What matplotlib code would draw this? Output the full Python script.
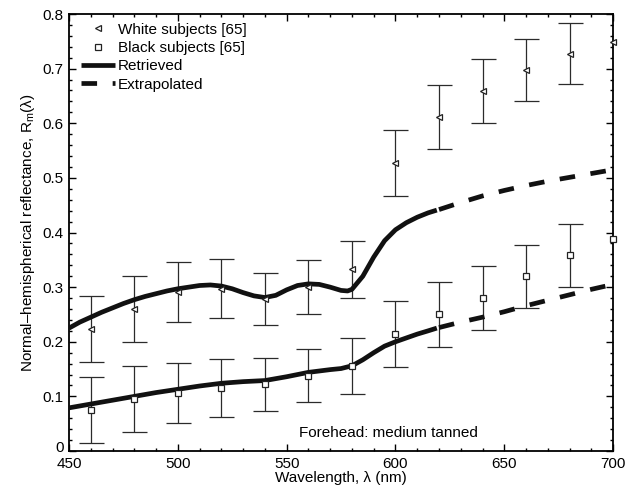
import matplotlib
matplotlib.use('Agg')
import matplotlib.pyplot as plt
from matplotlib.ticker import MultipleLocator

plt.rcParams['font.family'] = ['Liberation Sans', 'DejaVu Sans']
plt.rcParams['mathtext.fontset'] = 'custom'
plt.rcParams['mathtext.rm'] = 'Liberation Sans'
plt.rcParams['mathtext.it'] = 'Liberation Sans'

# measured points with error bars
WAVE_PTS = [460, 480, 500, 520, 540, 560, 580, 600, 620, 640, 660, 680]
WHITE = [0.223, 0.260, 0.291, 0.297, 0.278, 0.300, 0.333, 0.527, 0.611, 0.659, 0.698, 0.727]
WHITE_ERR = [0.060, 0.061, 0.055, 0.054, 0.048, 0.049, 0.052, 0.060, 0.059, 0.058, 0.057, 0.056]
BLACK = [0.075, 0.095, 0.106, 0.115, 0.122, 0.138, 0.155, 0.214, 0.250, 0.280, 0.320, 0.358]
BLACK_ERR = [0.060, 0.060, 0.055, 0.053, 0.048, 0.049, 0.051, 0.060, 0.059, 0.059, 0.058, 0.057]
# last point at 700 nm (drawn without error bars)
WAVE_LAST = [700]
WHITE_LAST = [0.749]
BLACK_LAST = [0.388]

# retrieved curves
WAVE_RET_W = [450, 455, 460, 465, 470, 475, 480, 485, 490, 495, 500, 505, 510, 515,
              520, 525, 530, 535, 540, 545, 550, 555, 560, 565, 570, 575, 578, 580,
              585, 590, 595, 600, 605, 610, 615, 619]
WHITE_RET = [0.225, 0.236, 0.245, 0.254, 0.262, 0.270, 0.277, 0.283, 0.288, 0.293,
             0.297, 0.300, 0.303, 0.304, 0.302, 0.297, 0.290, 0.284, 0.281, 0.285,
             0.295, 0.303, 0.306, 0.305, 0.300, 0.294, 0.293, 0.296, 0.320, 0.355,
             0.385, 0.405, 0.418, 0.428, 0.436, 0.441]
WAVE_RET_B = [450, 460, 470, 480, 490, 500, 510, 520, 530, 540, 550, 560, 570, 575,
              580, 585, 590, 595, 600, 605, 610, 615, 619]
BLACK_RET = [0.079, 0.086, 0.093, 0.100, 0.107, 0.113, 0.119, 0.124, 0.127, 0.129,
             0.136, 0.144, 0.149, 0.151, 0.156, 0.167, 0.180, 0.192, 0.200, 0.207,
             0.214, 0.220, 0.225]

# extrapolated curves
WAVE_EXT = [620, 630, 640, 650, 660, 670, 680, 690, 700]
WHITE_EXT = [0.442, 0.455, 0.467, 0.477, 0.486, 0.494, 0.501, 0.508, 0.515]
BLACK_EXT = [0.226, 0.236, 0.245, 0.255, 0.266, 0.276, 0.286, 0.296, 0.305]

YTICKS = [0, 0.1, 0.2, 0.3, 0.4, 0.5, 0.6, 0.7, 0.8]
YLABELS = ['', '0.1', '0.2', '0.3', '0.4', '0.5', '0.6', '0.7', '0.8']

FS = 11
LW = 3.4
DASH = (3.3, 3.3)

fig = plt.figure(figsize=(6.36, 4.92), dpi=100)
ax = fig.add_axes([0.1085, 0.0833, 0.8555, 0.8882])

ebar = dict(fmt='none', ecolor='#2b2b2b', elinewidth=0.9, capsize=9, capthick=0.9)
ax.errorbar(WAVE_PTS, WHITE, yerr=WHITE_ERR, **ebar)
ax.errorbar(WAVE_PTS, BLACK, yerr=BLACK_ERR, **ebar)

ax.plot(WAVE_PTS + WAVE_LAST, WHITE + WHITE_LAST, linestyle='none', marker='<',
        ms=5, mfc='white', mec='#222222', mew=0.9, clip_on=False, zorder=4,
        label='White subjects [65]')
ax.plot(WAVE_PTS + WAVE_LAST, BLACK + BLACK_LAST, linestyle='none', marker='s',
        ms=4.2, mfc='white', mec='#222222', mew=0.9, clip_on=False, zorder=4,
        label='Black subjects [65]')

ax.plot(WAVE_RET_W, WHITE_RET, color='#111111', lw=LW, solid_capstyle='butt',
        label='Retrieved', zorder=3)
ax.plot(WAVE_RET_B, BLACK_RET, color='#111111', lw=LW, solid_capstyle='butt', zorder=3)
ax.plot(WAVE_EXT, WHITE_EXT, color='#111111', lw=LW, dashes=DASH,
        dash_capstyle='butt', label='Extrapolated', zorder=3)
ax.plot(WAVE_EXT, BLACK_EXT, color='#111111', lw=LW, dashes=DASH,
        dash_capstyle='butt', zorder=3)

ax.set_xlim(450, 700)
ax.set_ylim(0, 0.8)
ax.xaxis.set_major_locator(MultipleLocator(50))
ax.xaxis.set_minor_locator(MultipleLocator(10))
ax.yaxis.set_minor_locator(MultipleLocator(0.02))
ax.set_yticks(YTICKS)
ax.set_yticklabels(YLABELS)
ax.tick_params(which='both', direction='in', top=True, right=True, labelsize=FS,
               width=1)
ax.tick_params(axis='x', pad=4)
ax.tick_params(axis='y', pad=4)
ax.tick_params(which='major', length=5)
ax.tick_params(which='minor', length=2.5)
for s in ax.spines.values():
    s.set_linewidth(1.3)

# the "0" label sits a little above the axis corner in the original
ax.annotate('0', xy=(0, 0), xycoords='axes fraction', xytext=(-3.5, 2.5),
            textcoords='offset points', ha='right', va='center', fontsize=FS)

ax.set_xlabel('Wavelength, λ (nm)', fontsize=FS, labelpad=0)
ax.set_ylabel('Normal\u2013hemispherical reflectance, R$_\\mathrm{m}$(λ)',
              fontsize=FS, labelpad=4)

ax.text(597, 0.033, 'Forehead: medium tanned', fontsize=FS, ha='center', va='center')

ax.legend(loc='upper left', bbox_to_anchor=(0.022, 0.98), frameon=False,
          fontsize=FS, handlelength=2.2, handletextpad=0.2, borderpad=0,
          labelspacing=0.28, borderaxespad=0)

fig.savefig('out.png', dpi=100)
